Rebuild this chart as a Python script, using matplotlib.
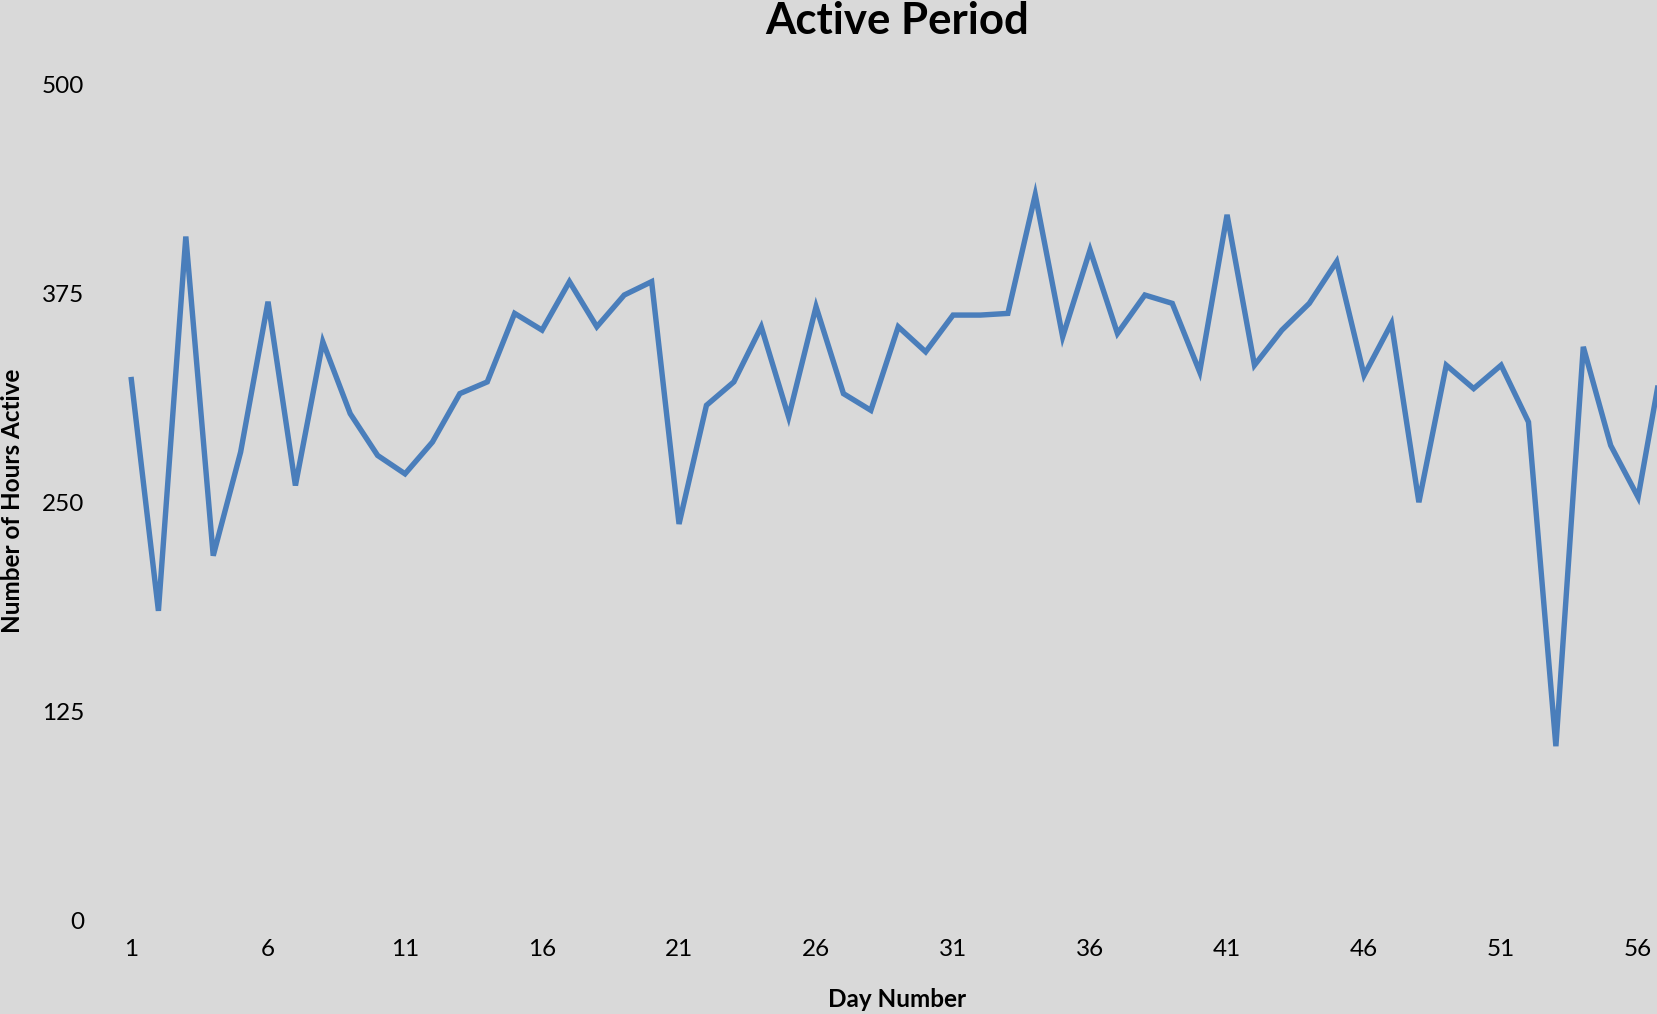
import numpy as np
from matplotlib import pyplot as pl

days = np.arange(1, 58)
hours = [325, 185, 409, 218, 280, 370, 260, 346, 303, 278,
         267, 286, 315, 322, 363, 353, 382, 355, 374, 382,
         237, 308, 322, 355, 301, 367, 315, 305, 355, 340,
         362, 362, 363, 434, 349, 401, 351, 374, 369, 328,
         422, 332, 353, 369, 394, 326, 357, 250, 332, 318,
         332, 298, 104, 343, 284, 253, 345]
xticks = list(range(1, 57, 5))
yticks = [0, 125, 250, 375, 500]

bg = '#d9d9d9'
lineCol = '#4a7ebb'
fontFam = ['Lato', 'DejaVu Sans']

pl.rcParams['font.family'] = fontFam

fig = pl.figure(figsize=(16.57, 10.14), dpi=100, facecolor=bg)
ax = fig.add_axes([0.0708, 0.0927, 1 - 0.0708, 0.9167 - 0.0927])
ax.set_facecolor(bg)

ax.plot(days, hours, color=lineCol, lw=3.9, solid_joinstyle='miter', solid_capstyle='butt')

ax.set_xlim(0.5, 56.69)
ax.set_ylim(0, 500)
ax.set_xticks(xticks)
ax.set_yticks(yticks)
ax.tick_params(axis='both', length=0, labelsize=17.5)
ax.tick_params(axis='y', pad=24)
ax.tick_params(axis='x', pad=14)
for s in ax.spines.values():
  s.set_visible(False)

fig.text(0.5415, 0.979, 'Active Period', ha='center', va='center', fontsize=31.5, fontweight='bold')
fig.text(0.5415, 0.0146, 'Day Number', ha='center', va='center', fontsize=17.5, fontweight='bold')
fig.text(0.0077, 0.506, 'Number of Hours Active', ha='center', va='center', rotation=90,
         fontsize=17.5, fontweight='bold')

fig.savefig('out.png', dpi=100, facecolor=bg)
